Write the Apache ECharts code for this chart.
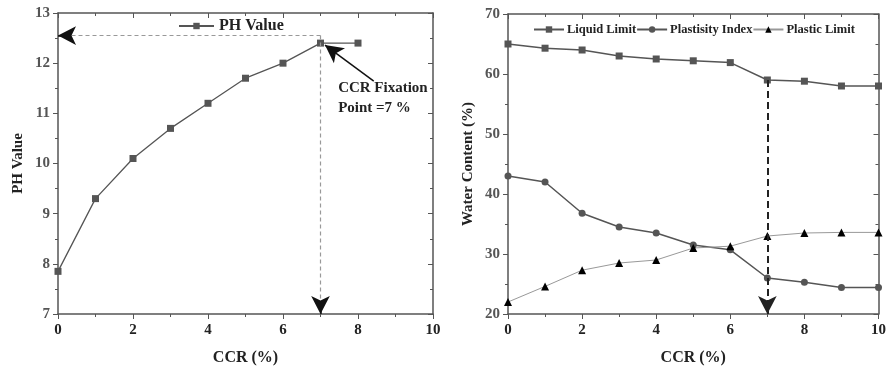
<!DOCTYPE html>
<html>
<head>
<meta charset="utf-8">
<script src="https://cdn.jsdelivr.net/npm/echarts@6/dist/echarts.min.js"></script>
<style>
  html, body { margin: 0; padding: 0; background: #fff; }
  #chart { width: 889px; height: 371px; }
</style>
</head>
<body>
<div id="chart"></div>
<script>
// left panel
var phCcr = [0, 1, 2, 3, 4, 5, 6, 7, 8]
var phValue = [7.85, 9.3, 10.1, 10.7, 11.2, 11.7, 12.0, 12.4, 12.4]
var phGuide = 12.55
var fixPoint = 7

// right panel
var ccr = [0, 1, 2, 3, 4, 5, 6, 7, 8, 9, 10]
var liquidLimit = [65, 64.3, 64, 63, 62.5, 62.2, 61.9, 59, 58.8, 58, 58]
var plastIndex = [43, 42, 36.8, 34.5, 33.5, 31.5, 30.7, 26, 25.3, 24.4, 24.4]
var plasticLimit = [22, 24.6, 27.3, 28.5, 29, 31, 31.3, 33, 33.5, 33.6, 33.6]

var serif = 'Liberation Serif'
var axisColor = '#555'

function pairs (xs, ys) {
  return xs.map(function (x, i) { return [x, ys[i]] })
}

function xAxisCfg (grid, pos) {
  var main = pos === 'bottom'
  return {
    type: 'value', gridIndex: grid, position: pos,
    min: 0, max: 10, interval: 2,
    name: main ? 'CCR (%)' : '', nameLocation: 'middle', nameGap: 36,
    nameTextStyle: { fontFamily: serif, fontWeight: 'bold', fontSize: 16, color: '#222' },
    axisLine: { show: true, onZero: false, lineStyle: { color: axisColor, width: 1.5 } },
    axisTick: { show: true, inside: !main, length: 5, lineStyle: { color: axisColor } },
    minorTick: { show: true, splitNumber: 2, length: 3, lineStyle: { color: axisColor } },
    axisLabel: { show: main, margin: 9, fontFamily: serif, fontWeight: 'bold', fontSize: 15, color: '#222' },
    splitLine: { show: false }
  }
}

function yAxisCfg (grid, pos, min, max, step, name) {
  var main = pos === 'left'
  return {
    type: 'value', gridIndex: grid, position: pos,
    min: min, max: max, interval: step,
    name: main ? name : '', nameLocation: 'middle', nameGap: 32,
    nameTextStyle: { fontFamily: serif, fontWeight: 'bold', fontSize: 15, color: '#222' },
    axisLine: { show: true, onZero: false, lineStyle: { color: axisColor, width: 1.5 } },
    axisTick: { show: true, inside: !main, length: 5, lineStyle: { color: axisColor } },
    minorTick: { show: true, splitNumber: 2, length: 3, lineStyle: { color: axisColor } },
    axisLabel: { show: main, margin: 8, fontFamily: serif, fontWeight: 'bold', fontSize: 15, color: '#555' },
    splitLine: { show: false }
  }
}

// black arrowheads on short black stubs, so the grey guide lines keep their colour
var head = { type: 'solid', color: '#111', width: 1.5 }

var chart = echarts.init(document.getElementById('chart'))

var option = {
  animation: false,
  backgroundColor: '#fff',
  grid: [
    { left: 58, top: 13, width: 375, height: 302 },
    { left: 508, top: 14, width: 374, height: 300 }
  ],
  legend: [
    {
      data: ['PH Value'], left: 173, top: 13,
      itemWidth: 35, itemHeight: 8,
      textStyle: { fontFamily: serif, fontWeight: 'bold', fontSize: 16, color: '#222' }
    },
    {
      data: ['Liquid Limit', 'Plastisity Index', 'Plastic Limit'], left: 528, top: 18,
      itemWidth: 30, itemHeight: 8, itemGap: 0,
      textStyle: { fontFamily: serif, fontWeight: 'bold', fontSize: 12.5, color: '#222', padding: [0, 0, 0, -2] }
    }
  ],
  xAxis: [xAxisCfg(0, 'bottom'), xAxisCfg(1, 'bottom'), xAxisCfg(0, 'top'), xAxisCfg(1, 'top')],
  yAxis: [
    yAxisCfg(0, 'left', 7, 13, 1, 'PH Value'),
    yAxisCfg(1, 'left', 20, 70, 10, 'Water Content (%)'),
    yAxisCfg(0, 'right', 7, 13, 1, ''),
    yAxisCfg(1, 'right', 20, 70, 10, '')
  ],
  series: [
    {
      name: 'PH Value', type: 'line', xAxisIndex: 0, yAxisIndex: 0,
      data: pairs(phCcr, phValue),
      symbol: 'rect', symbolSize: 7,
      lineStyle: { color: '#555', width: 1.3 },
      itemStyle: { color: '#555' },
      markLine: {
        silent: true, symbol: ['none', 'none'], symbolSize: [14, 18],
        label: { show: false },
        lineStyle: { type: [4, 3], color: '#999', width: 1.2 },
        data: [
          [{ coord: [fixPoint, phGuide] }, { coord: [0, phGuide] }],
          [{ coord: [fixPoint, phGuide] }, { coord: [fixPoint, 7] }],
          [{ coord: [0.2, phGuide], lineStyle: head, symbol: 'none' }, { coord: [0, phGuide], symbol: 'arrow' }],
          [{ coord: [fixPoint, 7.15], lineStyle: head, symbol: 'none' }, { coord: [fixPoint, 7], symbol: 'arrow' }],
          [{ coord: [8.42, 11.64], lineStyle: head, symbol: 'none' }, { coord: [7.12, 12.36], symbol: 'arrow' }]
        ]
      },
      markPoint: {
        silent: true, symbol: 'circle', symbolSize: 0,
        data: [{ coord: [7.47, 11.3] }],
        label: {
          show: true, position: 'right', distance: 0,
          formatter: 'CCR Fixation\nPoint =7 %',
          fontFamily: serif, fontWeight: 'bold', fontSize: 15, lineHeight: 20, color: '#222', align: 'left'
        }
      }
    },
    {
      name: 'Liquid Limit', type: 'line', xAxisIndex: 1, yAxisIndex: 1,
      data: pairs(ccr, liquidLimit),
      symbol: 'rect', symbolSize: 7,
      lineStyle: { color: '#555', width: 1.5 },
      itemStyle: { color: '#555' },
      markLine: {
        silent: true, symbol: ['none', 'arrow'], symbolSize: [14, 18],
        label: { show: false },
        lineStyle: { type: [7, 4], color: '#222', width: 2 },
        data: [[{ coord: [fixPoint, liquidLimit[7]] }, { coord: [fixPoint, 20] }]]
      }
    },
    {
      name: 'Plastisity Index', type: 'line', xAxisIndex: 1, yAxisIndex: 1,
      data: pairs(ccr, plastIndex),
      symbol: 'circle', symbolSize: 7,
      lineStyle: { color: '#555', width: 1.5 },
      itemStyle: { color: '#555' }
    },
    {
      name: 'Plastic Limit', type: 'line', xAxisIndex: 1, yAxisIndex: 1,
      data: pairs(ccr, plasticLimit),
      symbol: 'triangle', symbolSize: 8,
      lineStyle: { color: '#999', width: 1 },
      itemStyle: { color: '#000' }
    }
  ]
}

chart.setOption(option)
</script>
</body>
</html>
